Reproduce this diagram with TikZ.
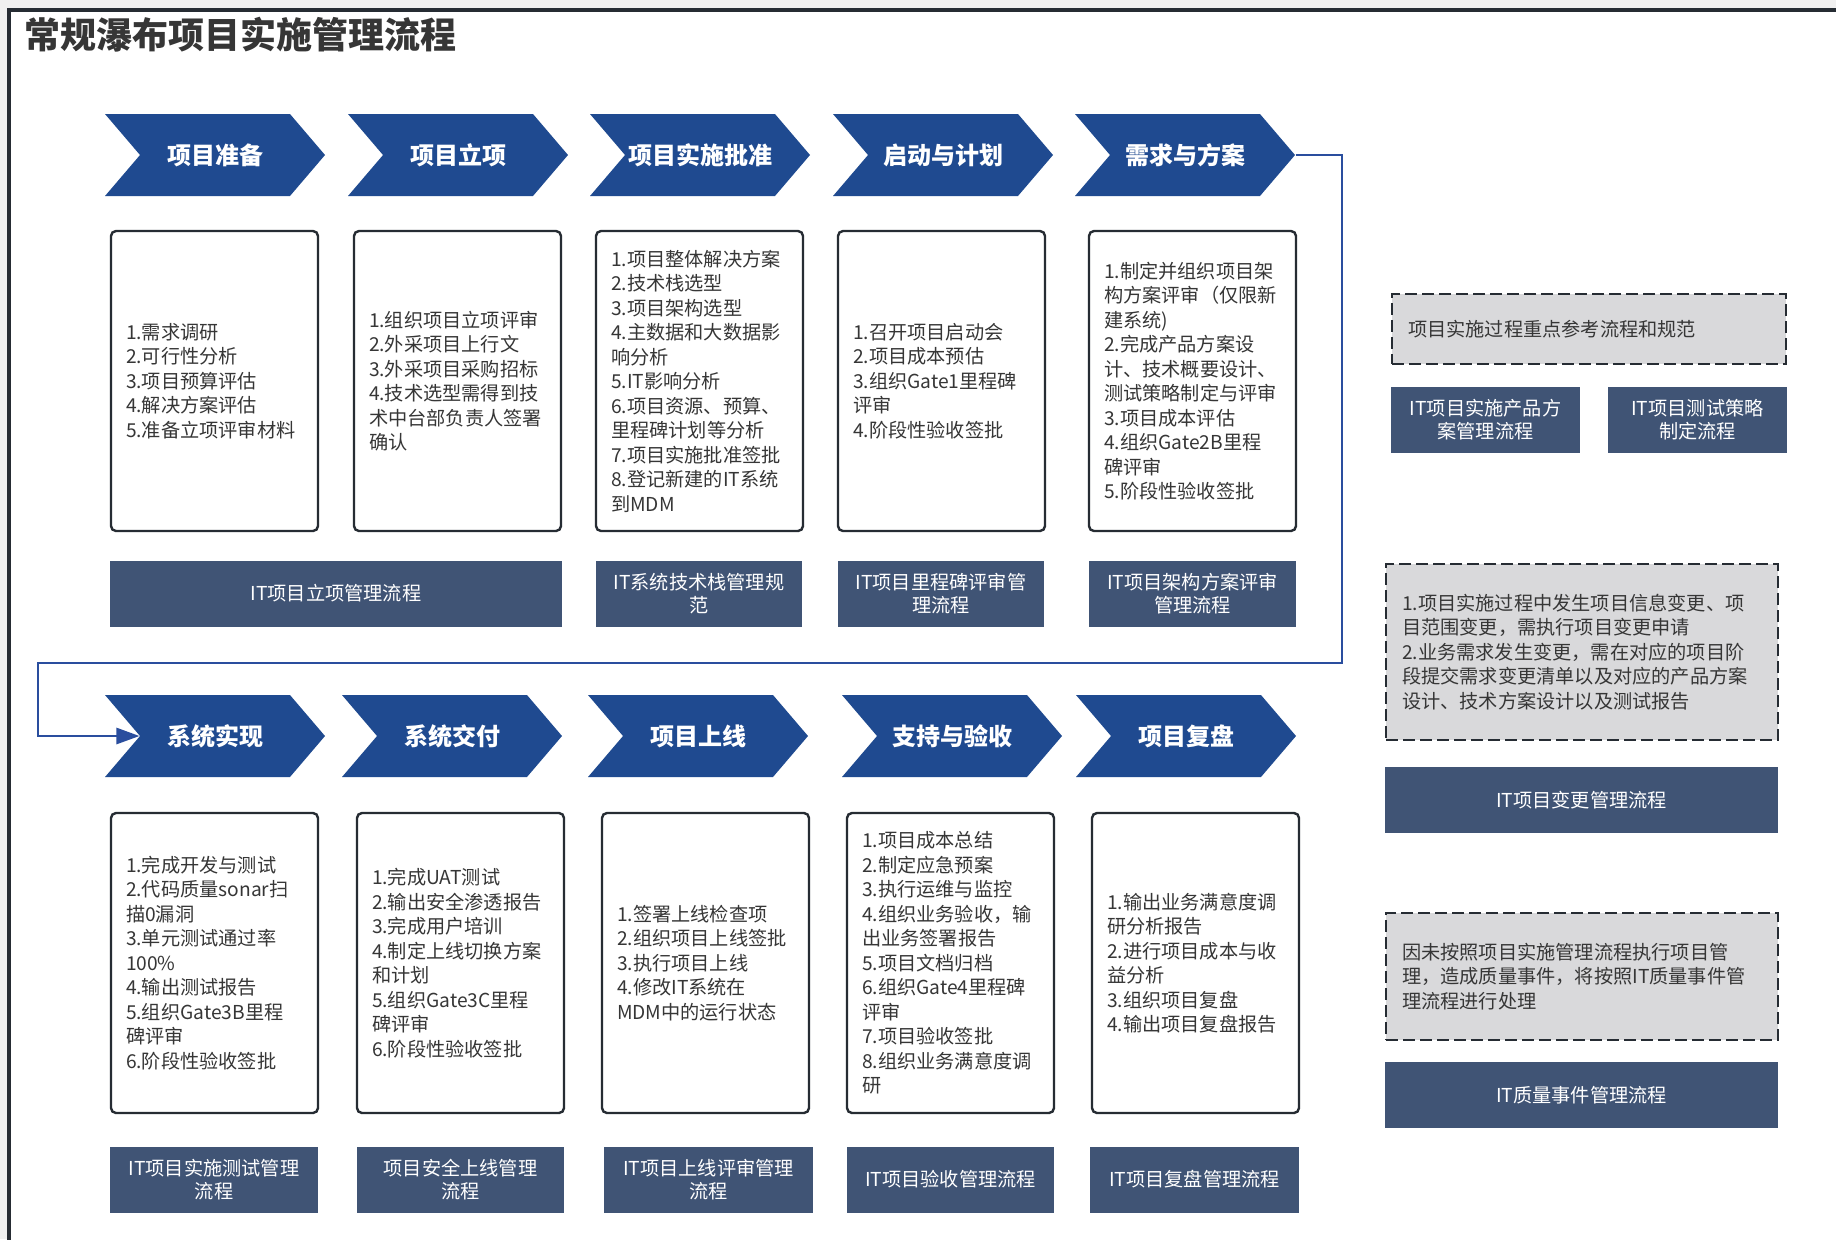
\documentclass[tikz,border=0pt]{standalone}
\usepackage{fontspec}
\setmainfont{Noto Sans CJK SC}
\usepackage{tikz}
\usetikzlibrary{shapes.symbols,arrows.meta}
\definecolor{chevblue}{HTML}{1F4A90}
\definecolor{linkblue}{HTML}{405475}
\definecolor{lineblue}{HTML}{2A4E9E}
\definecolor{edgegray}{HTML}{262C33}
\definecolor{notegray}{HTML}{D9D9DB}
\definecolor{txtgray}{HTML}{363636}
\definecolor{pagegray}{HTML}{F0F0F0}
\tikzset{
  phasebox/.style={signal, signal to=east, signal from=west, signal pointer angle=99,
    fill=chevblue, text=white, minimum width=110pt, minimum height=41pt, inner sep=0pt,
    font=\fontsize{12pt}{14pt}\selectfont\bfseries},
  taskbox/.style={draw=edgegray, line width=1.2pt, rounded corners=2.5pt, fill=white,
    text=txtgray, text width=88.5pt, inner xsep=7.5pt, minimum height=150pt, align=left,
    font=\fontsize{9.6pt}{12.25pt}\selectfont},
  flowbox/.style={fill=linkblue, text=white, align=center, minimum width=#1,
    minimum height=33pt, inner sep=2pt, font=\fontsize{9.6pt}{11.5pt}\selectfont},
  notebox/.style={draw=edgegray, fill=notegray, dash pattern=on 6pt off 2.5pt,
    line width=1.2pt, text=txtgray, align=left, text width=#1, inner xsep=8pt,
    font=\fontsize{9.6pt}{12.25pt}\selectfont},
}
\begin{document}
\begin{tikzpicture}[x=0.5pt,y=-0.5pt]
\useasboundingbox (0,0) rectangle (1836,1239);
\fill[pagegray] (0,0) rectangle (1836,1239);
\begin{scope}
\clip (0,0) rectangle (1836,1239);
\filldraw[fill=white,draw=edgegray,line width=1.6pt] (9,10) rectangle (1900,1300);
\end{scope}
\node[anchor=west,inner sep=0pt,text=txtgray,font=\fontsize{18pt}{20pt}\selectfont\bfseries] (title) at (24,35) {常规瀑布项目实施管理流程};

\node[phasebox] (prep) at (215,155) {项目准备};
\node[phasebox] (setup) at (458,155) {项目立项};
\node[phasebox] (approve) at (700,155) {项目实施批准};
\node[phasebox] (kickoff) at (943,155) {启动与计划};
\node[phasebox] (req) at (1185,155) {需求与方案};

\node[taskbox] (prepT) at (214.5,381) {1.需求调研\\2.可行性分析\\3.项目预算评估\\4.解决方案评估\\5.准备立项评审材料};
\node[taskbox] (setupT) at (457.5,381) {1.组织项目立项评审\\2.外采项目上行文\\3.外采项目采购招标\\4.技术选型需得到技\\术中台部负责人签署\\确认};
\node[taskbox] (approveT) at (699.5,381) {1.项目整体解决方案\\2.技术栈选型\\3.项目架构选型\\4.主数据和大数据影\\响分析\\5.IT影响分析\\6.项目资源、预算、\\里程碑计划等分析\\7.项目实施批准签批\\8.登记新建的IT系统\\到MDM};
\node[taskbox] (kickoffT) at (941.5,381) {1.召开项目启动会\\2.项目成本预估\\3.组织Gate1里程碑\\评审\\4.阶段性验收签批};
\node[taskbox] (reqT) at (1192.5,381) {1.制定并组织项目架\\构方案评审（仅限新\\建系统)\\2.完成产品方案设\\计、技术概要设计、\\测试策略制定与评审\\3.项目成本评估\\4.组织Gate2B里程\\碑评审\\5.阶段性验收签批};

\node[flowbox=226pt] (setupL) at (336,593.5) {IT项目立项管理流程};
\node[flowbox=103pt] (approveL) at (699,593.5) {IT系统技术栈管理规\\范};
\node[flowbox=103pt] (kickoffL) at (941,593.5) {IT项目里程碑评审管\\理流程};
\node[flowbox=103.5pt] (reqL) at (1192.5,593.5) {IT项目架构方案评审\\管理流程};

\node[phasebox] (impl) at (215,736) {系统实现};
\node[phasebox] (deliver) at (452,736) {系统交付};
\node[phasebox] (golive) at (698,736) {项目上线};
\node[phasebox] (accept) at (952,736) {支持与验收};
\node[phasebox] (retro) at (1186,736) {项目复盘};

\node[taskbox] (implT) at (214.5,963) {1.完成开发与测试\\2.代码质量sonar扫\\描0漏洞\\3.单元测试通过率\\100\%\\4.输出测试报告\\5.组织Gate3B里程\\碑评审\\6.阶段性验收签批};
\node[taskbox] (deliverT) at (460.5,963) {1.完成UAT测试\\2.输出安全渗透报告\\3.完成用户培训\\4.制定上线切换方案\\和计划\\5.组织Gate3C里程\\碑评审\\6.阶段性验收签批};
\node[taskbox] (goliveT) at (705.5,963) {1.签署上线检查项\\2.组织项目上线签批\\3.执行项目上线\\4.修改IT系统在\\MDM中的运行状态};
\node[taskbox] (acceptT) at (950.5,963) {1.项目成本总结\\2.制定应急预案\\3.执行运维与监控\\4.组织业务验收，输\\出业务签署报告\\5.项目文档归档\\6.组织Gate4里程碑\\评审\\7.项目验收签批\\8.组织业务满意度调\\研};
\node[taskbox] (retroT) at (1195.5,963) {1.输出业务满意度调\\研分析报告\\2.进行项目成本与收\\益分析\\3.组织项目复盘\\4.输出项目复盘报告};

\node[flowbox=104pt] (implL) at (214,1179.5) {IT项目实施测试管理\\流程};
\node[flowbox=103.5pt] (deliverL) at (460.5,1179.5) {项目安全上线管理\\流程};
\node[flowbox=104.5pt] (goliveL) at (708.5,1179.5) {IT项目上线评审管理\\流程};
\node[flowbox=103.5pt] (acceptL) at (950.5,1179.5) {IT项目验收管理流程};
\node[flowbox=104.5pt] (retroL) at (1194.5,1179.5) {IT项目复盘管理流程};

\node[notebox=181pt,minimum height=35pt] (refN) at (1589,329) {项目实施过程重点参考流程和规范};
\node[flowbox=94.5pt] (prodL) at (1485.5,419.5) {IT项目实施产品方\\案管理流程};
\node[flowbox=89.5pt] (testL) at (1697.5,419.5) {IT项目测试策略\\制定流程};
\node[notebox=180pt,minimum height=88pt] (changeN) at (1582,652) {1.项目实施过程中发生项目信息变更、项\\目范围变更，需执行项目变更申请\\2.业务需求发生变更，需在对应的项目阶\\段提交需求变更清单以及对应的产品方案\\设计、技术方案设计以及测试报告};
\node[flowbox=196.5pt] (changeL) at (1581.5,800) {IT项目变更管理流程};
\node[notebox=180pt,minimum height=63.5pt] (qualityN) at (1582,976.5) {因未按照项目实施管理流程执行项目管\\理，造成质量事件，将按照IT质量事件管\\理流程进行处理};
\node[flowbox=196.5pt] (qualityL) at (1581.5,1095) {IT质量事件管理流程};

\coordinate (turnR) at (1342,663);
\coordinate (turnL) at (38,663);
\draw[lineblue,line width=1.3pt,-{Triangle[length=11.5pt,width=8pt]}] (req.east) -| (turnR) -- (turnL) |- (impl.west);
\end{tikzpicture}
\end{document}
